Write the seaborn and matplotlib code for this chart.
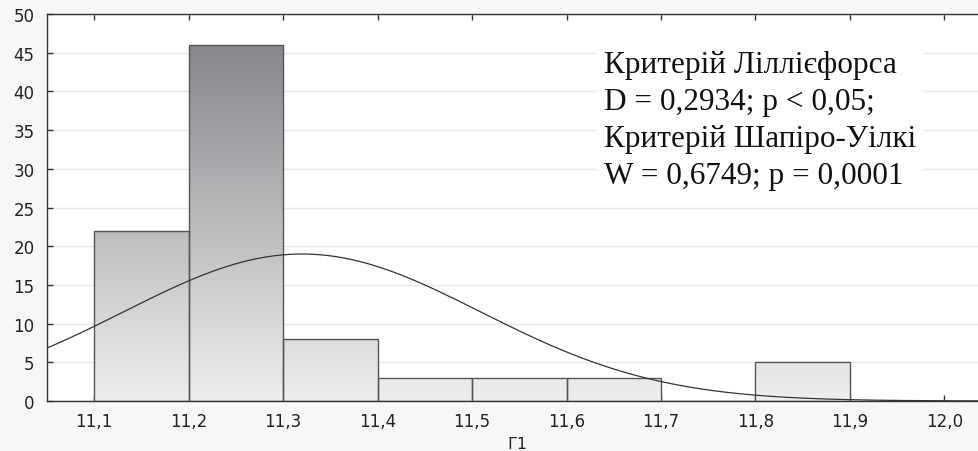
import numpy as np
import pandas as pd
import matplotlib
matplotlib.use("Agg")
import matplotlib.pyplot as plt
import seaborn as sns
from matplotlib.colors import LinearSegmentedColormap

# histogram data (bin midpoints and counts)
bin_mids = [11.15, 11.25, 11.35, 11.45, 11.55, 11.65, 11.75, 11.85]
counts = [22, 46, 8, 3, 3, 3, 0, 5]
bin_edges = [11.1, 11.2, 11.3, 11.4, 11.5, 11.6, 11.7, 11.8, 11.9]
x_ticks = [11.1, 11.2, 11.3, 11.4, 11.5, 11.6, 11.7, 11.8, 11.9, 12.0]
y_ticks = [0, 5, 10, 15, 20, 25, 30, 35, 40, 45, 50]
# fitted normal curve parameters (estimated)
fit_mean = 11.32
fit_sd = 0.189

stats_text = ("Критерій Ліллієфорса\n"
              "D = 0,2934; p < 0,05;\n"
              "Критерій Шапіро-Уілкі\n"
              "W = 0,6749; p = 0,0001")

df = pd.DataFrame({"Г1": bin_mids, "count": counts})

sns.set_style("white")
plt.rcParams["font.family"] = ["DejaVu Sans"]

fig = plt.figure(figsize=(9.79, 4.52), dpi=100, facecolor="#f7f7f7")
ax = fig.add_axes([0.048, 0.1106, 0.96, 0.856])
ax.set_facecolor("white")

sns.histplot(data=df, x="Г1", weights="count", bins=bin_edges, ax=ax,
             color="white", alpha=1, edgecolor="#555555", linewidth=1.0)

# vertical gradient inside each bar
cmap = LinearSegmentedColormap.from_list("g", ["#efefef", "#86878b"])
grad = np.linspace(0, 1, 256).reshape(-1, 1)
for p in ax.patches:
    h = p.get_height()
    if h <= 0:
        continue
    im = ax.imshow(grad, cmap=cmap, aspect="auto", origin="lower",
                   extent=[p.get_x(), p.get_x() + p.get_width(), 0, 46],
                   vmin=0, vmax=1, zorder=p.get_zorder() - 0.1)
    im.set_clip_path(p)
    p.set_facecolor("none")
    p.set_zorder(3)

xs = np.linspace(11.0, 12.1, 400)
n = sum(counts)
ys = n * 0.1 / (fit_sd * np.sqrt(2 * np.pi)) * np.exp(-0.5 * ((xs - fit_mean) / fit_sd) ** 2)
sns.lineplot(x=xs, y=ys, ax=ax, color="#333333", linewidth=0.9, zorder=4)

ax.set_xlim(11.05, 12.045)
ax.set_ylim(0, 50)
ax.set_xticks(x_ticks)
ax.set_xticklabels([f"{v:.1f}".replace(".", ",") for v in x_ticks])
ax.set_yticks(y_ticks)
ax.tick_params(direction="in", length=4, width=1, color="#333333",
               labelsize=12, labelcolor="#222222",
               top=True, bottom=True, left=True, right=False)
ax.tick_params(axis="x", pad=8)
ax.tick_params(axis="y", pad=9)
ax.set_xlabel("Г1", fontsize=11.5, labelpad=4, color="#222222")
ax.set_ylabel("")
ax.grid(axis="y", color="#e8e8e8", linewidth=1)
ax.set_axisbelow(True)
for s in ["left", "bottom", "top"]:
    ax.spines[s].set_color("#333333")
    ax.spines[s].set_linewidth(1.0)
ax.spines["right"].set_visible(False)

ax.text(11.64, 45.3, stats_text, family=["Liberation Serif", "DejaVu Serif"],
        fontsize=22.5, va="top", ha="left", linespacing=1.36, zorder=5,
        color="#111111",
        bbox=dict(facecolor="white", edgecolor="none", pad=5))

fig.savefig("out.png", dpi=100, facecolor=fig.get_facecolor())
